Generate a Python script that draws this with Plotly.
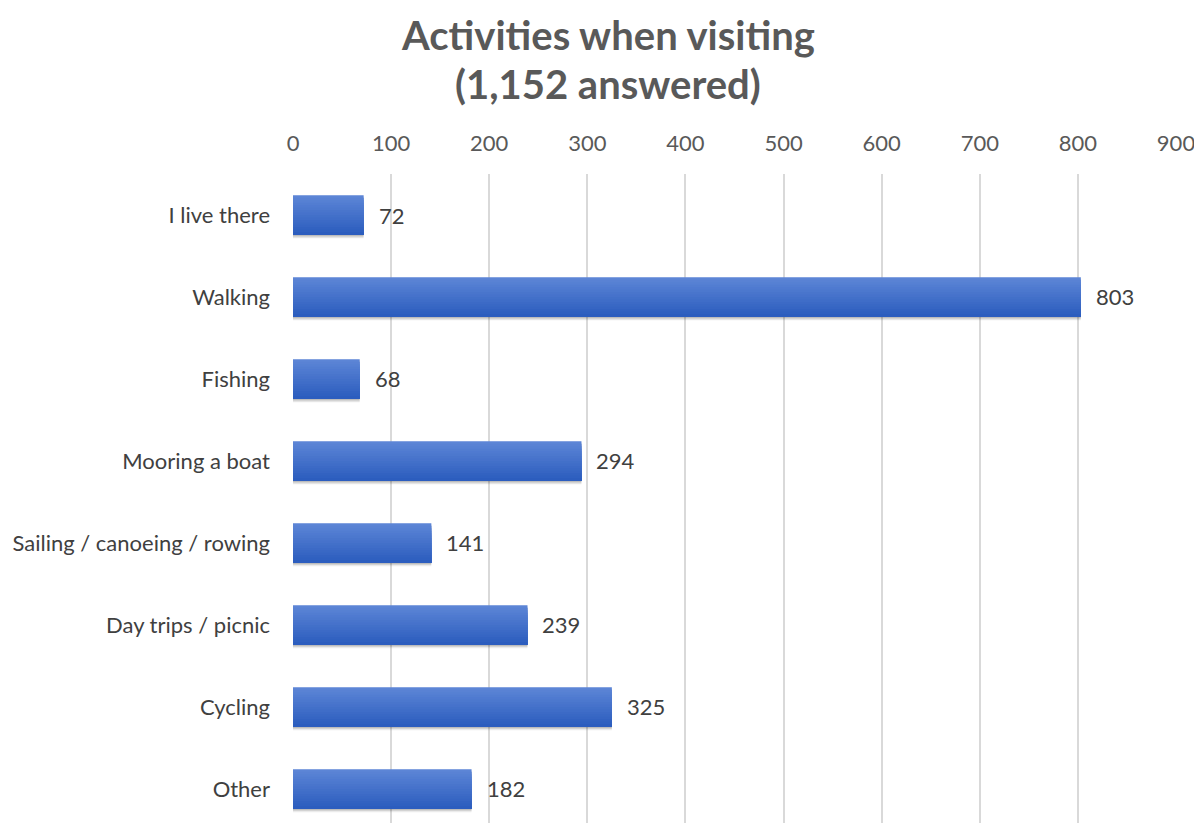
import plotly.graph_objects as go

# Survey responses: activities when visiting
activities = ["I live there", "Walking", "Fishing", "Mooring a boat",
              "Sailing / canoeing / rowing", "Day trips / picnic", "Cycling", "Other"]
counts = [72, 803, 68, 294, 141, 239, 325, 182]
tick_values = [0, 100, 200, 300, 400, 500, 600, 700, 800, 900]
title_lines = ["Activities when visiting", "(1,152 answered)"]

FONT = "Lato"
BAR_W = 0.48
N_STRIPS = 16
TOP_RGB = (92, 133, 214)
BOT_RGB = (44, 93, 190)

fig = go.Figure()

# soft drop shadow under each bar
for off, alpha in [(0.015, 0.10), (0.03, 0.10), (0.045, 0.08)]:
    fig.add_trace(go.Bar(
        y=activities, x=counts, orientation="h",
        width=BAR_W, offset=-BAR_W / 2 + off,
        marker=dict(color=f"rgba(0,0,0,{alpha})", line=dict(width=0)),
        hoverinfo="skip", showlegend=False,
    ))

# vertical gradient fill: each layer runs from its start to the bar bottom,
# so later layers cover earlier ones without seams
strip = BAR_W / N_STRIPS
for k in range(N_STRIPS):
    t = k / (N_STRIPS - 1)
    r, g, b = (round(TOP_RGB[i] + (BOT_RGB[i] - TOP_RGB[i]) * t) for i in range(3))
    fig.add_trace(go.Bar(
        y=activities, x=counts, orientation="h",
        width=BAR_W - k * strip, offset=-BAR_W / 2 + k * strip,
        marker=dict(color=f"rgb({r},{g},{b})", line=dict(width=0)),
        hoverinfo="skip", showlegend=False,
    ))

# value labels just past each bar end
for name, v in zip(activities, counts):
    fig.add_annotation(
        x=v, y=name, text=str(v), showarrow=False,
        xanchor="left", xshift=13,
        font=dict(family=FONT, size=22, color="#404040"),
    )

# two-line bold title, centred on the whole figure
for line, ypos in zip(title_lines, [1.2142, 1.1387]):
    fig.add_annotation(
        xref="paper", yref="paper", x=0.357, y=ypos,
        xanchor="center", yanchor="middle", showarrow=False,
        text=f"<b>{line}</b>",
        font=dict(family=FONT, size=40, color="#595959"),
    )

fig.update_layout(
    width=1194, height=823,
    paper_bgcolor="white", plot_bgcolor="white",
    barmode="overlay",
    margin=dict(l=293, r=18, t=174, b=0),
    xaxis=dict(
        side="top", range=[0, 900], tickvals=tick_values,
        showgrid=True, gridcolor="#d9d9d9", gridwidth=2,
        zeroline=False, showline=False, ticks="",
        ticklabelstandoff=18, ticklabeloverflow="allow",
        tickfont=dict(family=FONT, size=22, color="#595959"),
        fixedrange=True,
    ),
    yaxis=dict(
        type="category", categoryorder="array", categoryarray=activities,
        range=[7.415, -0.5], showgrid=False, zeroline=False, showline=False,
        ticks="", ticklabelstandoff=22, automargin=False,
        tickfont=dict(family=FONT, size=22, color="#404040"),
        fixedrange=True,
    ),
)

fig.write_html("out.html")
